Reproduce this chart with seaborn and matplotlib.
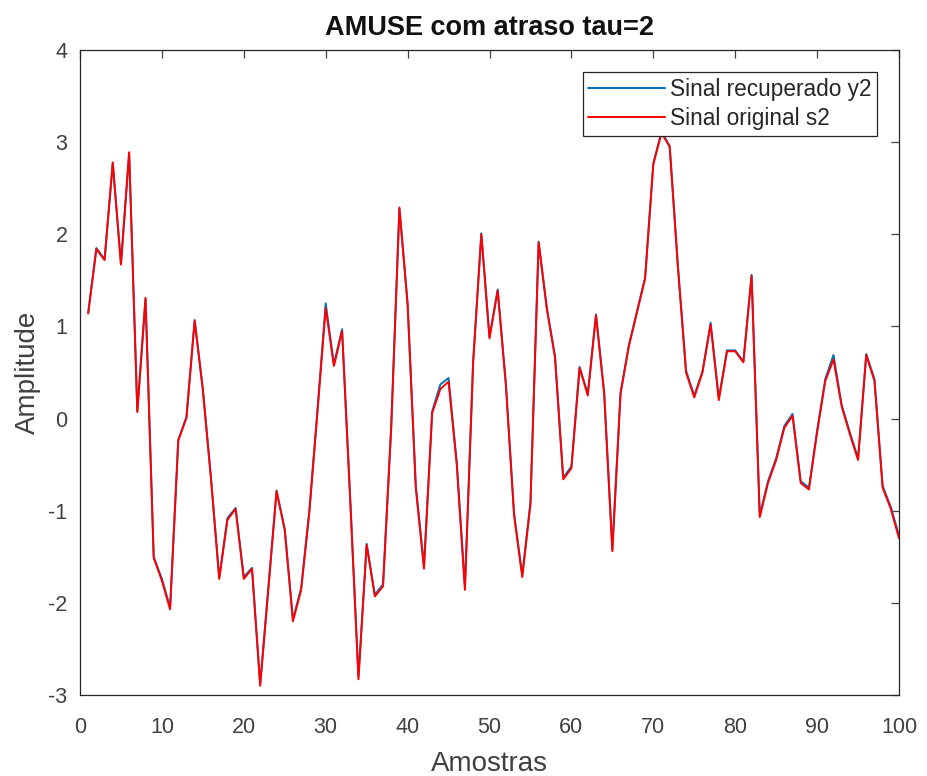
import numpy as np
import pandas as pd
import matplotlib
matplotlib.use("Agg")
import matplotlib.pyplot as plt
import seaborn as sns

# Sample index
amostras = list(range(1, 101))

# Original source signal s2
s2 = [
    1.14, 1.84, 1.72, 2.78, 1.67, 2.89, 0.07, 1.31, -1.51, -1.76,
    -2.07, -0.24, 0.01, 1.06, 0.31, -0.66, -1.74, -1.10, -0.98, -1.74,
    -1.63, -2.90, -1.85, -0.79, -1.21, -2.20, -1.86, -1.02, 0.08, 1.20,
    0.57, 0.95, -0.90, -2.83, -1.37, -1.93, -1.82, -0.10, 2.29, 1.24,
    -0.75, -1.63, 0.06, 0.32, 0.40, -0.50, -1.86, 0.60, 2.00, 0.87,
    1.39, 0.36, -1.05, -1.72, -0.93, 1.91, 1.19, 0.66, -0.66, -0.54,
    0.55, 0.25, 1.12, 0.27, -1.44, 0.27, 0.78, 1.15, 1.52, 2.76,
    3.10, 2.95, 1.65, 0.50, 0.23, 0.50, 1.02, 0.20, 0.73, 0.73,
    0.61, 1.55, -1.07, -0.70, -0.45, -0.10, 0.03, -0.70, -0.77, -0.15,
    0.41, 0.64, 0.13, -0.17, -0.45, 0.69, 0.41, -0.75, -0.98, -1.30,
]

# Recovered signal y2 from AMUSE
y2 = [
    1.15, 1.85, 1.73, 2.77, 1.68, 2.88, 0.08, 1.30, -1.50, -1.74,
    -2.05, -0.23, 0.02, 1.07, 0.32, -0.65, -1.73, -1.08, -0.97, -1.72,
    -1.62, -2.88, -1.83, -0.78, -1.20, -2.18, -1.84, -1.00, 0.10, 1.25,
    0.59, 0.97, -0.88, -2.80, -1.36, -1.91, -1.80, -0.08, 2.28, 1.25,
    -0.73, -1.60, 0.08, 0.37, 0.44, -0.47, -1.83, 0.62, 2.01, 0.89,
    1.40, 0.38, -1.03, -1.70, -0.91, 1.92, 1.20, 0.68, -0.64, -0.52,
    0.56, 0.27, 1.13, 0.29, -1.42, 0.28, 0.79, 1.16, 1.53, 2.77,
    3.11, 2.96, 1.66, 0.52, 0.25, 0.51, 1.04, 0.22, 0.74, 0.74,
    0.62, 1.56, -1.05, -0.68, -0.43, -0.08, 0.05, -0.68, -0.75, -0.13,
    0.43, 0.69, 0.15, -0.15, -0.43, 0.70, 0.43, -0.73, -0.96, -1.27,
]

xticks = list(range(0, 101, 10))
yticks = list(range(-3, 5))

sns.set_style("white")
plt.rcParams["font.family"] = ["Liberation Sans", "DejaVu Sans"]
plt.rcParams["xtick.direction"] = "in"
plt.rcParams["ytick.direction"] = "in"
plt.rcParams["axes.unicode_minus"] = False

df = pd.DataFrame({"Amostras": amostras, "y2": y2, "s2": s2})

fig = plt.figure(figsize=(9.27, 7.76), dpi=100)
ax = fig.add_axes([0.0863, 0.1044, 0.8835, 0.8312])

sns.lineplot(data=df, x="Amostras", y="y2", ax=ax, color="#0072BD",
             linewidth=1.4, label="Sinal recuperado y2")
sns.lineplot(data=df, x="Amostras", y="s2", ax=ax, color="#FF0000",
             linewidth=1.4, label="Sinal original s2")

ax.set_xlim(0, 100)
ax.set_ylim(-3, 4)
ax.set_xticks(xticks)
ax.set_yticks(yticks)
ax.tick_params(axis="both", which="both", labelsize=15.5, colors="#404040",
               length=6, width=0.9, top=True, right=True)
ax.tick_params(axis="x", pad=16)
ax.tick_params(axis="y", pad=9)
for sp in ax.spines.values():
    sp.set_color("#262626")
    sp.set_linewidth(0.9)
    sp.set_visible(True)

ax.set_xlabel("Amostras", fontsize=20, color="#404040", labelpad=9)
ax.set_ylabel("Amplitude", fontsize=20, color="#404040", labelpad=5.5)
ax.set_title("AMUSE com atraso tau=2", fontsize=19.5, fontweight="bold",
             color="#111111", pad=11)

leg = ax.legend(loc="upper right", fontsize=16.3, frameon=True, fancybox=False,
                borderaxespad=0.97, handlelength=3.4, handletextpad=0.2,
                borderpad=0.25, labelspacing=0.3)
leg.get_frame().set_edgecolor("#262626")
leg.get_frame().set_linewidth(0.9)
leg.get_frame().set_alpha(1.0)
for t in leg.get_texts():
    t.set_color("#262626")

fig.savefig("out.png", dpi=100)
